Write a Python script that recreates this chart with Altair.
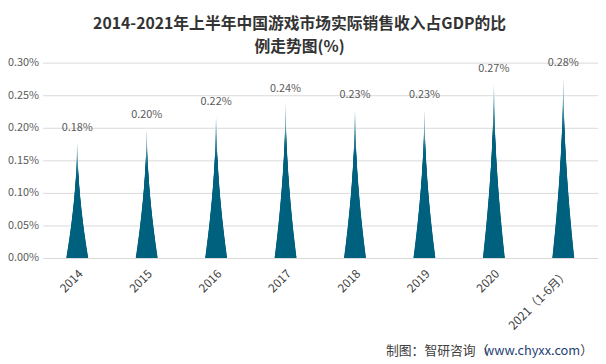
import altair as alt
import pandas as pd
import numpy as np

categories = ["2014", "2015", "2016", "2017", "2018", "2019", "2020", "2021（1-6月）"]
values = [0.0018, 0.0020, 0.0022, 0.0024, 0.0023, 0.0023, 0.0027, 0.0028]
y_ticks = [0, 0.0005, 0.0010, 0.0015, 0.0020, 0.0025, 0.0030]

title_lines = ["2014-2021年上半年中国游戏市场实际销售收入占GDP的比", "例走势图(%)"]
source_prefix = "制图：智研咨询（"
source_url = "www.chyxx.com"
source_suffix = "）"

# spike shape: overlapping bars from 0, narrower ones taller (drawn first)
BASE = (0x00, 0x61, 0x7f)
N = 80
rows = []
for c, v in zip(categories, values):
    for i in range(N, 0, -1):
        t = i / N
        w = 22 * (1 - t + 1 / N) ** 1.8
        f = 0.0 if t < 0.7 else min(1.0, ((t - 0.7) / 0.3) ** 1.2)
        col = "#%02x%02x%02x" % tuple(int(round(b + (255 - b) * f)) for b in BASE)
        rows.append({"cat": c, "top": v * t, "zero": 0.0, "w": max(w, 0.6), "col": col})
slices = pd.DataFrame(rows)
labels = pd.DataFrame({"cat": categories, "value": values})

FONT = "Noto Sans CJK SC"
x_enc = alt.X("cat:N", sort=categories, title=None,
              scale=alt.Scale(paddingInner=0, paddingOuter=0),
              axis=alt.Axis(labelAngle=-45, labelFontSize=12, labelColor="#404040",
                            ticks=False, domainColor="#d9d9d9", labelPadding=10,
                            labelFont=FONT))
y_scale = alt.Scale(domain=[0, 0.003])
y_axis = alt.Axis(values=y_ticks, format=".2%", domain=False, ticks=False,
                  gridColor="#d9d9d9", labelColor="#595959", labelFontSize=11,
                  labelPadding=4, labelFont=FONT, labelOverlap=False)

spikes = alt.Chart(slices).mark_bar().encode(
    x=x_enc,
    y=alt.Y("top:Q", scale=y_scale, title=None, axis=y_axis),
    y2="zero:Q",
    size=alt.Size("w:Q", scale=None),
    color=alt.Color("col:N", scale=None),
)

text = alt.Chart(labels).mark_text(dy=-13, fontSize=11, color="#595959", font=FONT).encode(
    x=alt.X("cat:N", sort=categories, title=None),
    y=alt.Y("value:Q", scale=y_scale, title=None, axis=y_axis),
    text=alt.Text("value:Q", format=".2%"),
)

src1 = alt.Chart(labels).transform_filter("datum.cat == '2014'").mark_text(
    align="right", baseline="middle", fontSize=13, color="#404040", font=FONT, text=source_prefix
).encode(x=alt.value(452), y=alt.value(292))
src2 = alt.Chart(labels).transform_filter("datum.cat == '2014'").mark_text(
    align="right", baseline="middle", fontSize=13, color="#1f3f73", font=FONT, text=source_url
).encode(x=alt.value(545), y=alt.value(292))
src3 = alt.Chart(labels).transform_filter("datum.cat == '2014'").mark_text(
    align="right", baseline="middle", fontSize=13, color="#404040", font=FONT, text=source_suffix
).encode(x=alt.value(558), y=alt.value(292))

chart = alt.layer(spikes, text, src1, src2, src3).properties(
    width=563, height=198,
    autosize=alt.AutoSizeParams(type="none"),
    padding={"left": 35, "top": 53, "right": 0, "bottom": 105},
    title=alt.TitleParams(title_lines, fontSize=16, fontWeight="bold", color="#333333",
                          font=FONT, anchor="middle", dx=-21, offset=2, lineHeight=23),
).configure_view(stroke=None)

chart.save("out.html", embed_options={"renderer": "svg", "actions": False})
